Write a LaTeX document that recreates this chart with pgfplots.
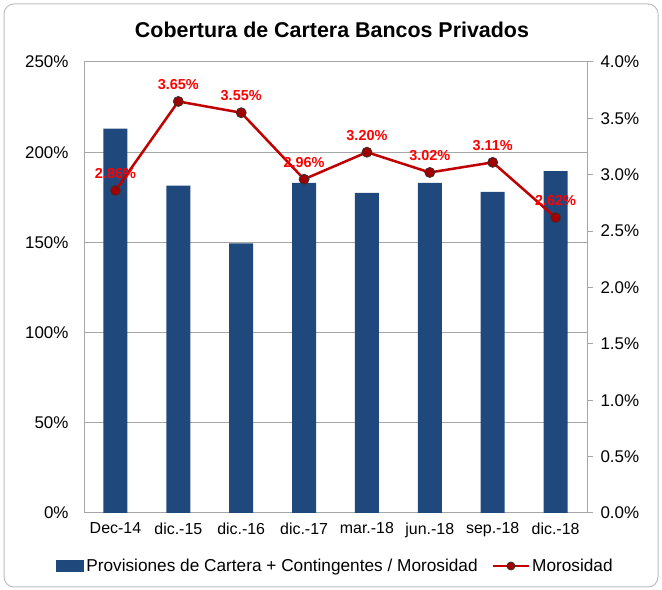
\documentclass[border=0pt]{standalone}
\usepackage{pgfplots}
\pgfplotsset{compat=1.18}
\usepackage{fontspec}
\setmainfont{Liberation Sans}
\definecolor{barblue}{HTML}{1F497D}
\definecolor{linered}{HTML}{C00000}
\definecolor{mkred}{HTML}{A00000}
\definecolor{gridgray}{HTML}{A6A6A6}
\definecolor{framegray}{HTML}{BFBFBF}
\begin{document}
\begin{tikzpicture}[x=1bp,y=1bp]
\path[use as bounding box] (0,0) rectangle (662,590);
\draw[framegray, line width=1bp, rounded corners=10bp] (4,3) rectangle (658,586);
\node[font=\fontsize{21.5}{25}\selectfont\bfseries] at (332,560) {Cobertura de Cartera Bancos Privados};
\begin{axis}[
  at={(84bp,77bp)}, anchor=south west, scale only axis,
  width=503bp, height=451bp,
  xmin=-0.5, xmax=7.5, ymin=0, ymax=250,
  xtick={0,...,7},
  xticklabels={Dec-14,dic.-15,dic.-16,dic.-17,mar.-18,jun.-18,sep.-18,dic.-18},
  ytick={0,50,...,250},
  yticklabel={\pgfmathprintnumber{\tick}\%},
  /pgf/number format/assume math mode=true,
  axis line style={gridgray, line width=1bp},
  major tick length=0pt,
  ymajorgrids, grid style={gridgray, line width=1bp},
  tick label style={font=\fontsize{17}{20}\selectfont, text=black},
  xticklabel style={font=\fontsize{16}{19}\selectfont, yshift=-6bp},
  yticklabel style={xshift=-12bp},
  ybar, bar width=24bp,
  legend style={at={(0.5,-0.1175)}, anchor=center, draw=none, fill=none,
    font=\fontsize{17.3}{20}\selectfont, legend columns=2,
    /tikz/every even column/.append style={column sep=12bp}},
]
\addplot[fill=barblue, draw=none,
  legend image code/.code={\fill[barblue] (0bp,-6bp) rectangle (28bp,6bp);}]
  coordinates {(0,213) (1,181.5) (2,149.5) (3,183) (4,177.5) (5,183) (6,178) (7,189.5)};
\addlegendentry{Provisiones de Cartera + Contingentes / Morosidad}
\addlegendimage{legend image code/.code={
  \draw[linered, line width=2.5bp] (0bp,0bp) -- (36bp,0bp);
  \fill[mkred, draw=black!80, line width=0.8bp] (18bp,0bp) circle (4bp);}}
\addlegendentry{Morosidad}
\end{axis}
\begin{axis}[
  at={(84bp,77bp)}, anchor=south west, scale only axis,
  width=503bp, height=451bp,
  xmin=-0.5, xmax=7.5, ymin=0, ymax=4,
  axis x line=none, axis y line*=right,
  ytick={0,0.5,...,4},
  yticklabel={\pgfmathprintnumber[fixed,fixed zerofill,precision=1]{\tick}\%},
  /pgf/number format/assume math mode=true,
  axis line style={gridgray, line width=1bp},
  tick align=outside, major tick length=6bp,
  y tick style={gridgray, line width=1bp},
  tick label style={font=\fontsize{17}{20}\selectfont, text=black},
  yticklabel style={xshift=4bp},
]
\addplot[linered, line width=2.5bp, mark=*, mark size=5bp,
  mark options={fill=mkred, draw=black!80, line width=0.8bp},
  point meta=explicit,
  nodes near coords={\pgfmathprintnumber[fixed,fixed zerofill,precision=2]{\pgfplotspointmeta}\%},
  every node near coord/.style={font=\fontsize{14.5}{17}\selectfont\bfseries, text=red, anchor=center, yshift=17bp}]
  coordinates {(0,2.86) [2.86] (1,3.65) [3.65] (2,3.55) [3.55] (3,2.96) [2.96]
               (4,3.20) [3.20] (5,3.02) [3.02] (6,3.11) [3.11] (7,2.62) [2.62]};
\end{axis}
\end{tikzpicture}
\end{document}
